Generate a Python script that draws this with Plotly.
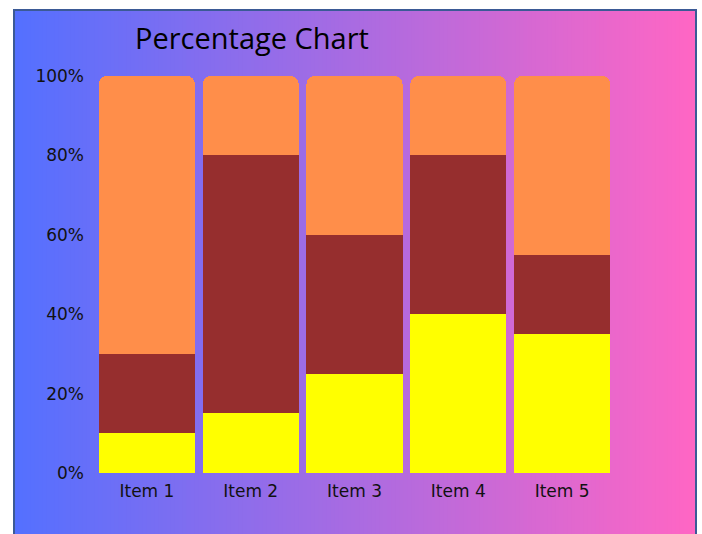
import plotly.graph_objects as go

# Data
categories = ["Item 1", "Item 2", "Item 3", "Item 4", "Item 5"]
series_low = [10, 15, 25, 40, 35]
series_mid = [20, 65, 35, 40, 20]
series_top = [70, 20, 40, 20, 45]
y_ticks = [0, 20, 40, 60, 80, 100]
y_tick_labels = ["0%", "20%", "40%", "60%", "80%", "100%"]

W, H = 702, 534
ML, MR, MT, MB = 95, 88, 76, 61
PW, PH = W - ML - MR, H - MT - MB


def px_x(x):
    return (x - ML) / PW


def px_y(y):
    return (H - MB - y) / PH


def lerp(a, b, t):
    return a + (b - a) * t


# Horizontal gradient panel built from thin overlapping strips
left_rgb = (84, 112, 255)
right_rgb = (255, 102, 196)
x0_px, x1_px = 14, 696
n = 170
shapes = []
for i in range(n):
    t = i / (n - 1)
    c = tuple(int(round(lerp(left_rgb[k], right_rgb[k], t))) for k in range(3))
    a = x0_px + (x1_px - x0_px) * i / n
    b = min(x1_px, x0_px + (x1_px - x0_px) * (i + 1) / n + 2)
    shapes.append(dict(type="rect", xref="paper", yref="paper", layer="below",
                       x0=px_x(a), x1=px_x(b), y0=px_y(H + 20), y1=px_y(10),
                       fillcolor="rgb(%d,%d,%d)" % c, line=dict(width=0)))
shapes.append(dict(type="rect", xref="paper", yref="paper", layer="below",
                   x0=px_x(x0_px), x1=px_x(x1_px), y0=px_y(H + 20), y1=px_y(10),
                   fillcolor="rgba(0,0,0,0)", line=dict(color="#3b5a96", width=2)))

fig = go.Figure()
fig.add_trace(go.Bar(x=categories, y=series_low, marker=dict(color="#ffff00", line=dict(width=0))))
fig.add_trace(go.Bar(x=categories, y=series_mid, marker=dict(color="#962e2e", line=dict(width=0))))
fig.add_trace(go.Bar(x=categories, y=series_top, marker=dict(color="#ff8e4a", line=dict(width=0))))

fig.update_layout(
    width=W, height=H,
    margin=dict(l=ML, r=MR, t=MT, b=MB),
    barmode="stack", bargap=0.075, barcornerradius=8,
    showlegend=False,
    paper_bgcolor="white", plot_bgcolor="rgba(0,0,0,0)",
    shapes=shapes,
    title=dict(text="Percentage Chart", x=px_x(135), xref="paper", xanchor="left",
               y=1 - 39 / H, yref="container", yanchor="middle",
               font=dict(family="Open Sans", size=29, color="black")),
    xaxis=dict(showgrid=False, zeroline=False, showline=False, ticks="",
               ticklabelstandoff=6,
               tickfont=dict(family="DejaVu Sans", size=17, color="#111111")),
    yaxis=dict(range=[0, 100], tickmode="array", tickvals=y_ticks, ticktext=y_tick_labels,
               showgrid=False, zeroline=False, showline=False, ticks="",
               ticklabelstandoff=10,
               tickfont=dict(family="DejaVu Sans", size=17, color="#111111")),
)

fig.write_html("out.html")
